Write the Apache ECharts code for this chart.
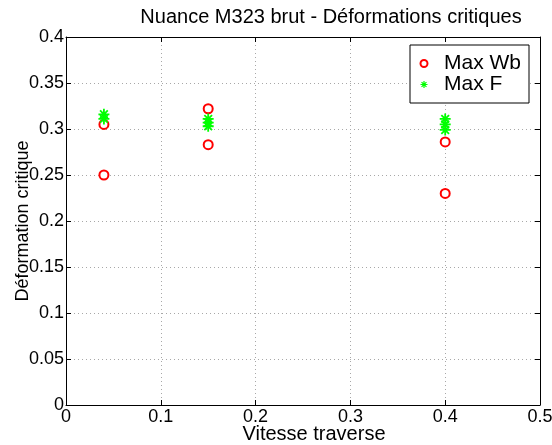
<!DOCTYPE html>
<html>
<head>
<meta charset="utf-8">
<script src="https://cdn.jsdelivr.net/npm/echarts@6/dist/echarts.min.js"></script>
<style>
  html, body { margin: 0; padding: 0; background: #fff; }
  #chart { width: 552px; height: 445px; }
</style>
</head>
<body>
<div id="chart"></div>
<script>
// Crosshead speed (x) and critical strain (y) for each criterion
const maxWbSpeed = [0.04, 0.04, 0.15, 0.15, 0.40, 0.40];
const maxWbStrain = [0.305, 0.250, 0.322, 0.283, 0.286, 0.230];

const maxFSpeed = [0.04, 0.04, 0.15, 0.15, 0.15, 0.40, 0.40, 0.40];
const maxFStrain = [0.316, 0.311, 0.311, 0.307, 0.303, 0.311, 0.305, 0.299];

const seriesNames = ['Max Wb', 'Max F'];
const titleText = 'Nuance M323 brut - Déformations critiques';
const xAxisName = 'Vitesse traverse';
const yAxisName = 'Déformation critique';

const FONT = '"Liberation Sans", Arial, Helvetica, sans-serif';
const asterisk = 'path://M0,-10L0,10M-10,0L10,0M-7,-7L7,7M-7,7L7,-7';

const pairs = (xs, ys) => xs.map((x, i) => [x, ys[i]]);

const gridLine = { show: true, lineStyle: { color: '#a8a8a8', type: [1, 3], width: 1 } };
const frameLine = { show: true, onZero: false, lineStyle: { color: '#000', width: 1 } };
const innerTick = { show: true, inside: true, length: 5, lineStyle: { color: '#000', width: 1 } };

const chart = echarts.init(document.getElementById('chart'), null, { renderer: 'canvas' });
chart.setOption({
  animation: false,
  backgroundColor: '#fff',
  grid: { left: 66, right: 12, top: 37, bottom: 40, containLabel: false, outerBoundsMode: 'none' },
  graphic: [{
    type: 'text', x: 331, y: 17,
    style: { text: titleText, font: '20px ' + FONT, fill: '#000', textAlign: 'center', textVerticalAlign: 'middle' }
  }],
  xAxis: [{
    type: 'value', min: 0, max: 0.5, interval: 0.1, position: 'bottom',
    name: xAxisName, nameLocation: 'middle', nameGap: 19, nameMoveOverlap: false,
    nameTextStyle: { fontFamily: FONT, fontSize: 20, color: '#000', padding: [0, 0, 0, 22] },
    axisLine: frameLine, axisTick: innerTick, splitLine: gridLine,
    axisLabel: { fontFamily: FONT, fontSize: 18, color: '#000', margin: 3 }
  }, {
    type: 'value', min: 0, max: 0.5, interval: 0.1, position: 'top',
    axisLine: frameLine, axisTick: innerTick, splitLine: { show: false }, axisLabel: { show: false }
  }],
  yAxis: [{
    type: 'value', min: 0, max: 0.4, interval: 0.05, position: 'left',
    name: yAxisName, nameLocation: 'middle', nameGap: 34, nameMoveOverlap: false,
    nameTextStyle: { fontFamily: FONT, fontSize: 18, color: '#000' },
    axisLine: frameLine, axisTick: innerTick, splitLine: gridLine,
    axisLabel: { fontFamily: FONT, fontSize: 18, color: '#000', margin: 2 }
  }, {
    type: 'value', min: 0, max: 0.4, interval: 0.05, position: 'right',
    axisLine: frameLine, axisTick: innerTick, splitLine: { show: false }, axisLabel: { show: false }
  }],
  legend: {
    orient: 'vertical', left: 410, top: 45,
    padding: [8, 8, 8, 8], itemGap: 0, itemWidth: 30, itemHeight: 7,
    backgroundColor: '#fff', borderColor: '#000', borderWidth: 1, borderRadius: 0,
    textStyle: { fontFamily: FONT, fontSize: 21, color: '#000', lineHeight: 18 },
    selectedMode: false,
    data: [
      { name: seriesNames[0], icon: 'emptyCircle', itemStyle: { color: '#ff0000', borderColor: '#ff0000', borderWidth: 1.2 } },
      { name: seriesNames[1], icon: asterisk, itemStyle: { color: 'none', borderColor: '#00ff00', borderWidth: 1.2 } }
    ]
  },
  series: [{
    name: seriesNames[0], type: 'scatter', xAxisIndex: 0, yAxisIndex: 0,
    symbol: 'emptyCircle', symbolSize: 9,
    itemStyle: { color: '#ff0000', borderColor: '#ff0000', borderWidth: 1.8, opacity: 1 },
    emphasis: { disabled: true },
    data: pairs(maxWbSpeed, maxWbStrain), z: 3
  }, {
    name: seriesNames[1], type: 'scatter', xAxisIndex: 0, yAxisIndex: 0,
    symbol: asterisk, symbolSize: 11,
    itemStyle: { color: 'none', borderColor: '#00ff00', borderWidth: 1.8, opacity: 1 },
    emphasis: { disabled: true },
    data: pairs(maxFSpeed, maxFStrain), z: 4
  }]
});
</script>
</body>
</html>
